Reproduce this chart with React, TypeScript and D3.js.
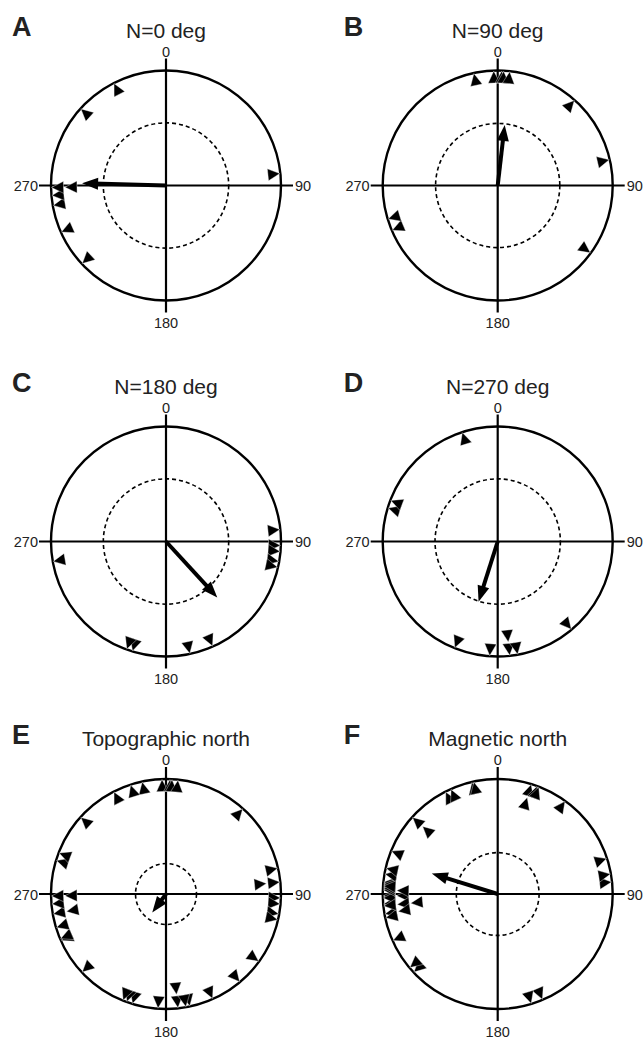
import React from "react";
import * as d3 from "d3";

// ---- data (compass degrees, clockwise from 0 = top) ----
const panelLetters = ["A", "B", "C", "D", "E", "F"];
const panelTitles = ["N=0 deg", "N=90 deg", "N=180 deg", "N=270 deg", "Topographic north", "Magnetic north"];

const anglesA = [84, 227, 246, 260, 265, 269, 269, 312, 333];
const anglesB = [348, 358, 2, 3, 6, 42, 77, 126, 247, 253];
const anglesC = [84, 92, 95, 100, 103, 156, 168, 197, 200, 260];
const anglesD = [342, 287, 291, 140, 202, 184, 174, 174, 170];
const anglesE = [
  84, 227, 246, 260, 265, 269, 269, 312, 333,
  348, 358, 2, 3, 6, 42, 77, 126, 247, 253,
  84, 92, 95, 100, 103, 156, 168, 197, 200, 260,
  342, 287, 291, 140, 202, 184, 174, 174, 170,
];
const anglesF = [
  84, 227, 246, 260, 265, 269, 269, 312, 333,
  258, 268, 272, 273, 276, 312, 347, 36, 157, 163,
  264, 272, 275, 280, 283, 336, 348, 17, 20, 80,
  72, 17, 21, 230, 292, 274, 264, 264, 260,
];

const meanAngles = [271.5, 6.6, 137.5, 197.6, 216.7, 287.3];
const meanLengths = [0.73, 0.53, 0.66, 0.55, 0.2, 0.6];
const criticalRadii = [0.545, 0.54, 0.545, 0.545, 0.265, 0.36];

const axisLabels = ["0", "90", "180", "270"];

const panelAngles = [anglesA, anglesB, anglesC, anglesD, anglesE, anglesF];

// ---- layout ----
const W = 644;
const H = 1040;
const R = 115;
const colX = [166, 497.7];
const rowY = [185.5, 541.5, 894];
const FONT = "'Liberation Sans', Arial, Helvetica, sans-serif";
const TRI_LEN = 12;
const TRI_HALF = 6;
const STACK_STEP = 13.5;

function Panel({ i }: { i: number }) {
  const cx = colX[i % 2];
  const cy = rowY[Math.floor(i / 2)];
  const rScale = d3.scaleLinear().domain([0, 1]).range([0, R]);
  const aScale = d3.scaleLinear().domain([0, 360]).range([0, 2 * Math.PI]);
  const pt = (deg: number, r: number): [number, number] => {
    const t = aScale(deg);
    return [cx + r * Math.sin(t), cy - r * Math.cos(t)];
  };
  const tan = (deg: number): [number, number] => {
    const t = aScale(deg);
    return [Math.cos(t), Math.sin(t)];
  };
  const line = d3.line();

  const counts = new Map<number, number>();
  const tris = panelAngles[i].map((a) => {
    const k = counts.get(a) || 0;
    counts.set(a, k + 1);
    const tipR = R - 0.5 - k * STACK_STEP;
    const tip = pt(a, tipR);
    const bc = pt(a, tipR - TRI_LEN);
    const tg = tan(a);
    const p1: [number, number] = [bc[0] + tg[0] * TRI_HALF, bc[1] + tg[1] * TRI_HALF];
    const p2: [number, number] = [bc[0] - tg[0] * TRI_HALF, bc[1] - tg[1] * TRI_HALF];
    return line([tip, p1, p2]) + "Z";
  });

  const ma = meanAngles[i];
  const mr = rScale(meanLengths[i]);
  const headL = 16;
  const headW = 6;
  const mTip = pt(ma, mr);
  const mBase = pt(ma, mr - headL);
  const mLineEnd = pt(ma, mr - headL * 0.7);
  const mtg = tan(ma);
  const head =
    line([
      mTip,
      [mBase[0] + mtg[0] * headW, mBase[1] + mtg[1] * headW],
      [mBase[0] - mtg[0] * headW, mBase[1] - mtg[1] * headW],
    ]) + "Z";

  const ext = 12;
  const labelStyle = { fontFamily: FONT, fontSize: 14.5, fill: "#222" } as const;

  return (
    <g>
      <text
        x={cx - 154}
        y={cy - R - 35}
        style={{ fontFamily: FONT, fontSize: 27, fontWeight: 700, fill: "#222" }}
      >
        {panelLetters[i]}
      </text>
      <text x={cx} y={cy - R - 33} textAnchor="middle" style={{ fontFamily: FONT, fontSize: 21, fill: "#222" }}>
        {panelTitles[i]}
      </text>
      <circle cx={cx} cy={cy} r={R} fill="none" stroke="#000" strokeWidth={2.4} />
      <circle
        cx={cx}
        cy={cy}
        r={rScale(criticalRadii[i])}
        fill="none"
        stroke="#000"
        strokeWidth={1.6}
        strokeDasharray="4,3"
      />
      <line x1={cx} y1={cy - R - ext} x2={cx} y2={cy + R + ext} stroke="#000" strokeWidth={2.2} />
      <line x1={cx - R - ext} y1={cy} x2={cx + R + ext} y2={cy} stroke="#000" strokeWidth={2.2} />
      <text x={cx} y={cy - R - 14} textAnchor="middle" style={labelStyle}>
        {axisLabels[0]}
      </text>
      <text x={cx + R + 14} y={cy + 5.5} textAnchor="start" style={labelStyle}>
        {axisLabels[1]}
      </text>
      <text x={cx} y={cy + R + 27.5} textAnchor="middle" style={labelStyle}>
        {axisLabels[2]}
      </text>
      <text x={cx - R - 13} y={cy + 5.5} textAnchor="end" style={labelStyle}>
        {axisLabels[3]}
      </text>
      {tris.map((d, j) => (
        <path key={j} d={d} fill="#000" stroke="#fff" strokeWidth={0.4} />
      ))}
      <line x1={cx} y1={cy} x2={mLineEnd[0]} y2={mLineEnd[1]} stroke="#000" strokeWidth={4} />
      <path d={head} fill="#000" />
    </g>
  );
}

export default function App() {
  return (
    <svg
      width={W}
      height={H}
      viewBox={`0 0 ${W} ${H}`}
      style={{ position: "absolute", left: 0, top: 0, background: "#fff", display: "block" }}
    >
      <rect x={0} y={0} width={W} height={H} fill="#fff" />
      {panelLetters.map((_, i) => (
        <Panel key={i} i={i} />
      ))}
    </svg>
  );
}
